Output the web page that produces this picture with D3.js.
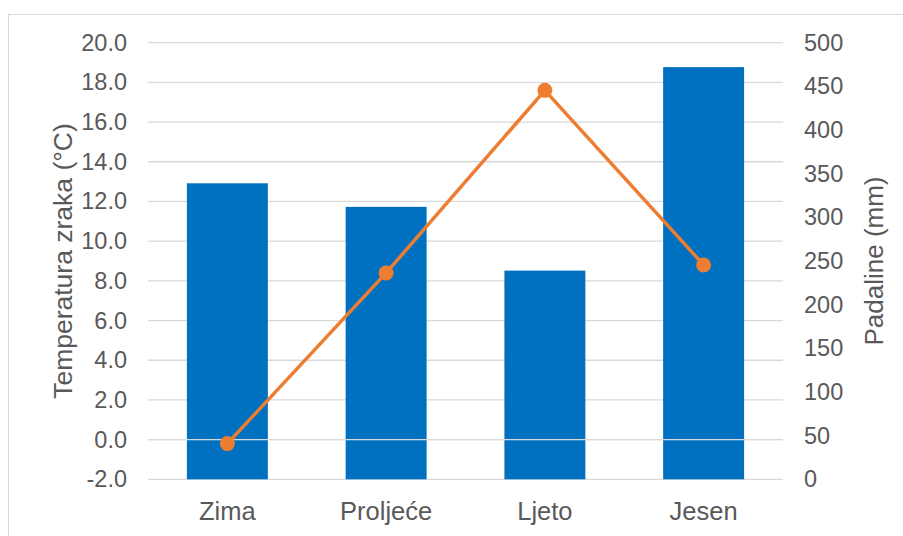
<!DOCTYPE html>
<html>
<head>
<meta charset="utf-8">
<script src="https://cdn.jsdelivr.net/npm/d3@7"></script>
<style>
  body { margin: 0; background: #fff; }
  text { font-family: "Liberation Sans", Arial, sans-serif; fill: #595959; }
  .grid line { stroke: #d9d9d9; stroke-width: 1.3; }
</style>
</head>
<body>
<div id="chart"></div>
<script>
var seasons = ['Zima', 'Proljeće', 'Ljeto', 'Jesen'];
var padaline = [339, 312, 239, 472];      // mm, bars, right axis
var temperatura = [-0.2, 8.4, 17.6, 8.8]; // °C, line, left axis
var tempTicks = [-2, 0, 2, 4, 6, 8, 10, 12, 14, 16, 18, 20];
var rainTicks = [0, 50, 100, 150, 200, 250, 300, 350, 400, 450, 500];

var W = 903, H = 536;
var margin = {top: 42.7, right: 120, bottom: 56.7, left: 148};
var width = W - margin.left - margin.right,
    height = H - margin.top - margin.bottom;

var svg = d3.select('#chart').append('svg')
  .attr('width', W)
  .attr('height', H);

// outer chart frame
svg.append('rect')
  .attr('x', 8.5).attr('y', 14.5)
  .attr('width', W).attr('height', H)
  .attr('fill', 'none')
  .attr('stroke', '#d9d9d9')
  .attr('stroke-width', 1);

var g = svg.append('g')
  .attr('transform', 'translate(' + margin.left + ',' + margin.top + ')');

var x = d3.scaleBand()
  .domain(seasons)
  .range([0, width])
  .paddingInner(0.49)
  .paddingOuter(0.245);

var yT = d3.scaleLinear().domain([-2, 20]).range([height, 0]);
var yR = d3.scaleLinear().domain([0, 500]).range([height, 0]);

// gridlines
g.append('g').attr('class', 'grid')
  .selectAll('line')
  .data(tempTicks)
  .enter().append('line')
  .attr('x1', 0).attr('x2', width)
  .attr('y1', function(d) { return yT(d); })
  .attr('y2', function(d) { return yT(d); });

// bars
g.selectAll('rect.bar')
  .data(padaline)
  .enter().append('rect')
  .attr('class', 'bar')
  .attr('x', function(d, i) { return x(seasons[i]); })
  .attr('width', x.bandwidth())
  .attr('y', function(d) { return yR(d); })
  .attr('height', function(d) { return height - yR(d); })
  .attr('fill', '#0070c0');

// zero line on top of the bars
g.append('line')
  .attr('x1', 0).attr('x2', width)
  .attr('y1', yT(0)).attr('y2', yT(0))
  .attr('stroke', '#d9d9d9')
  .attr('stroke-width', 1.3);

// temperature line
var cx = function(i) { return x(seasons[i]) + x.bandwidth() / 2; };
var line = d3.line()
  .x(function(d, i) { return cx(i); })
  .y(function(d) { return yT(d); });

g.append('path')
  .datum(temperatura)
  .attr('d', line)
  .attr('fill', 'none')
  .attr('stroke', '#ed7d31')
  .attr('stroke-width', 3.5)
  .attr('stroke-linejoin', 'round');

g.selectAll('circle.pt')
  .data(temperatura)
  .enter().append('circle')
  .attr('class', 'pt')
  .attr('cx', function(d, i) { return cx(i); })
  .attr('cy', function(d) { return yT(d); })
  .attr('r', 7.5)
  .attr('fill', '#ed7d31');

// axes
var leftAxis = d3.axisLeft(yT).tickValues(tempTicks)
  .tickFormat(function(d) { return d.toFixed(1); }).tickSize(0).tickPadding(21);
var rightAxis = d3.axisRight(yR).tickValues(rainTicks)
  .tickFormat(function(d) { return String(d); }).tickSize(0).tickPadding(21);
var bottomAxis = d3.axisBottom(x).tickSize(0).tickPadding(22.5);

function style(size) {
  return function(sel) {
    sel.select('.domain').remove();
    sel.selectAll('text').style('font-size', size + 'px').attr('fill', '#595959');
  };
}

g.append('g').call(leftAxis).call(style(23.5));
g.append('g').attr('transform', 'translate(' + width + ',0)').call(rightAxis).call(style(23.5));
g.append('g').attr('transform', 'translate(0,' + height + ')').call(bottomAxis).call(style(25.5));

// axis titles
svg.append('text')
  .attr('transform', 'translate(72,' + (margin.top + height / 2) + ') rotate(-90)')
  .attr('text-anchor', 'middle')
  .style('font-size', '26.5px')
  .text('Temperatura zraka (°C)');

svg.append('text')
  .attr('transform', 'translate(883,' + (margin.top + height / 2) + ') rotate(-90)')
  .attr('text-anchor', 'middle')
  .style('font-size', '26px')
  .text('Padaline (mm)');
</script>
</body>
</html>
